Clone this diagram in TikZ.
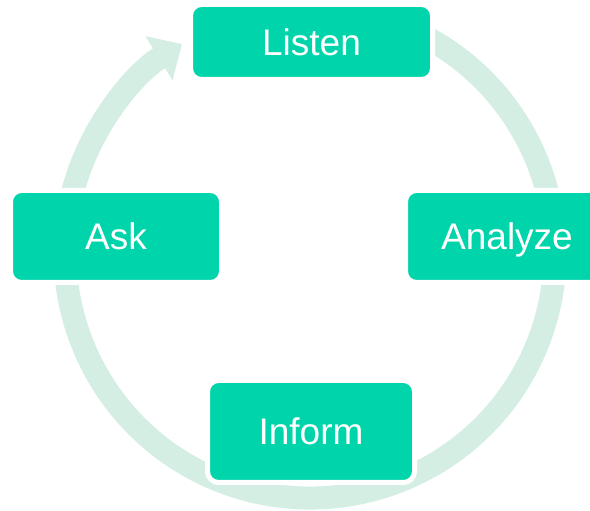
\documentclass[tikz,border=0pt]{standalone}
\usepackage{fontspec}
\setmainfont{Liberation Sans}
\usetikzlibrary{arrows.meta}
\definecolor{boxteal}{HTML}{00D4AA}
\definecolor{ringgreen}{HTML}{D4EEE3}
\tikzset{
  stagebox/.style={fill=boxteal, draw=white, line width=5pt, rounded corners=11pt,
    text=white, inner sep=0pt, text height=26.5pt, text depth=0pt,
    font=\fontsize{37}{40}\selectfont},
  ring/.style={ringgreen, line width=23pt, -{Triangle[length=27pt,width=50pt]}}
}
\begin{document}
\begin{tikzpicture}[x=1pt,y=1pt]
\useasboundingbox (0,0) rectangle (590,511);
\clip (0,0) rectangle (590,511);
\fill[white] (0,0) rectangle (590,511);
\coordinate (c) at (310,258);
\draw[ring] (c) ++(68:245) arc[start angle=68, end angle=-238.5, radius=245];
\node[stagebox, minimum width=242pt, minimum height=75pt] (listen) at (311.5,469) {Listen};
\node[stagebox, minimum width=211pt, minimum height=92pt] (ask) at (116,274.5) {Ask};
\node[stagebox, minimum width=203pt, minimum height=92pt] (analyze) at (507,274.5) {Analyze};
\node[stagebox, minimum width=207pt, minimum height=102pt] (inform) at (311,79.5) {Inform};
\end{tikzpicture}
\end{document}
